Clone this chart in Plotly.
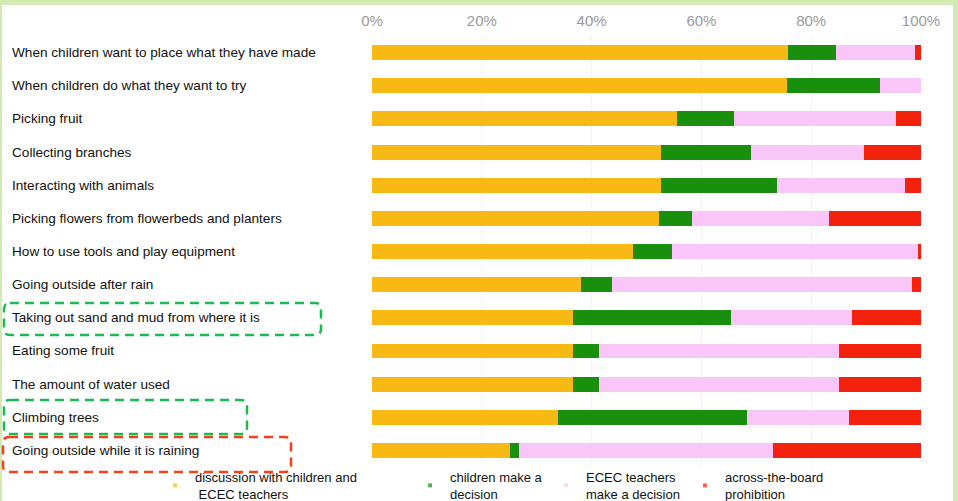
import plotly.graph_objects as go

categories = [
    "When children want to place what they have made",
    "When children do what they want to try",
    "Picking fruit",
    "Collecting branches",
    "Interacting with animals",
    "Picking flowers from flowerbeds and planters",
    "How to use tools and play equipment",
    "Going outside after rain",
    "Taking out sand and mud from where it is",
    "Eating some fruit",
    "The amount of water used",
    "Climbing trees",
    "Going outside while it is raining",
]

discussion = [75.8, 75.6, 55.6, 52.6, 52.6, 52.3, 47.5, 38.0, 36.6, 36.6, 36.6, 33.8, 25.2]
children = [8.7, 16.9, 10.4, 16.4, 21.1, 6.0, 7.1, 5.8, 28.8, 4.7, 4.7, 34.5, 1.6]
teachers = [14.4, 7.5, 29.4, 20.7, 23.4, 24.9, 44.8, 54.5, 22.0, 43.7, 43.7, 18.6, 46.2]
prohibition = [1.1, 0.0, 4.6, 10.3, 2.9, 16.8, 0.6, 1.7, 12.6, 15.0, 15.0, 13.1, 27.0]

series_names = [
    "discussion with children and<br> ECEC teachers",
    "children make a<br>decision",
    "ECEC teachers<br>make a decision",
    "across-the-board<br>prohibition",
]
series_values = [discussion, children, teachers, prohibition]
colors = ["#F8B914", "#198F0E", "#FAC6FA", "#F2220C"]

tick_vals = [0, 20, 40, 60, 80, 100]
tick_text = ["0%", "20%", "40%", "60%", "80%", "100%"]

W, H = 958, 501
ML, MR, MT, MB = 372, 37, 36, 34
PW, PH = W - ML - MR, H - MT - MB
FONT = "Liberation Sans, Arial"


def px(xp):
    return (xp - ML) / PW


def py(yp):
    return (H - MB - yp) / PH


fig = go.Figure()
for name, vals, col in zip(series_names, series_values, colors):
    fig.add_trace(go.Bar(
        y=categories, x=vals, orientation="h", name=name,
        marker=dict(color=col, line=dict(width=0)), width=0.45,
        showlegend=False, hoverinfo="x+y",
    ))

legend_ids = ["legend", "legend2", "legend3", "legend4"]
for name, col, lid in zip(series_names, colors, legend_ids):
    fig.add_trace(go.Scatter(
        x=[None], y=[None], mode="markers", name=name,
        marker=dict(symbol="square", size=4, color=col, opacity=0.7),
        legend=lid, showlegend=True,
    ))

# category labels, left-aligned
annotations = []
for c in categories:
    annotations.append(dict(
        x=px(10), xref="paper", y=c, yref="y", text=c, showarrow=False,
        xanchor="left", yanchor="middle",
        font=dict(family=FONT, size=13.6, color="#111111"),
    ))


def rounded_box(x0, y0, x1, y1, r=6):
    X0, X1 = px(x0), px(x1)
    Y0, Y1 = py(y0), py(y1)
    rx, ry = r / PW, r / PH
    return (f"M {X0+rx},{Y0} L {X1-rx},{Y0} Q {X1},{Y0} {X1},{Y0-ry} "
            f"L {X1},{Y1+ry} Q {X1},{Y1} {X1-rx},{Y1} L {X0+rx},{Y1} "
            f"Q {X0},{Y1} {X0},{Y1+ry} L {X0},{Y0-ry} Q {X0},{Y0} {X0+rx},{Y0} Z")


shapes = [
    # outer frame
    dict(type="rect", xref="paper", yref="paper", x0=px(2), x1=px(953),
         y0=py(502), y1=py(5), fillcolor="white", line=dict(width=0), layer="below"),
    dict(type="path", xref="paper", yref="paper", path=rounded_box(4, 303, 321, 335),
         line=dict(color="#1DB954", width=2.5, dash="9px,6px")),
    dict(type="path", xref="paper", yref="paper", path=rounded_box(4, 400, 247, 434),
         line=dict(color="#1DB954", width=2.5, dash="9px,6px")),
    dict(type="path", xref="paper", yref="paper", path=rounded_box(3, 437, 291, 472),
         line=dict(color="#F7401A", width=2.5, dash="9px,6px")),
]

legend_x = [177, 432, 568, 707]
legend_common = dict(
    orientation="h", xref="container", yref="container", yanchor="top",
    bgcolor="rgba(0,0,0,0)", itemwidth=30,
    font=dict(family=FONT, size=13, color="#111111"),
    valign="middle",
)
legend_layouts = {}
for lid, lx in zip(legend_ids, legend_x):
    d = dict(legend_common)
    d.update(x=(lx - 22) / W, y=1 - 462 / H)
    legend_layouts[lid] = d

fig.update_layout(
    width=W, height=H, barmode="stack",
    margin=dict(l=ML, r=MR, t=MT, b=MB, autoexpand=False),
    paper_bgcolor="#D4EAB3", plot_bgcolor="white",
    xaxis=dict(range=[0, 100], side="top", tickvals=tick_vals, ticktext=tick_text,
               showgrid=True, gridcolor="#F3F3F3", zeroline=False, showline=False,
               ticks="", ticklabelstandoff=6,
               tickfont=dict(family=FONT, size=15, color="#9A9A9A"),
               fixedrange=True),
    yaxis=dict(autorange="reversed", showticklabels=False, showgrid=False,
               zeroline=False, showline=False, ticks=""),
    annotations=annotations, shapes=shapes,
    **legend_layouts,
)

fig.write_html(
    "out.html",
    config={"displayModeBar": False},
    post_script="document.body.style.margin='0';document.body.style.overflow='hidden';",
)
